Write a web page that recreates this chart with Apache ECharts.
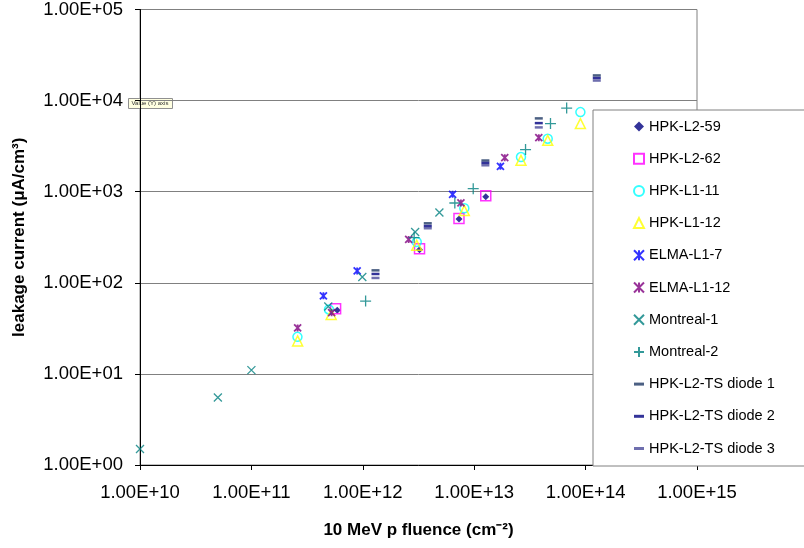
<!DOCTYPE html>
<html>
<head>
<meta charset="utf-8">
<script src="https://cdn.jsdelivr.net/npm/echarts@6/dist/echarts.min.js"></script>
<style>
  html, body { margin: 0; padding: 0; background: #fff; }
  #chart { width: 804px; height: 548px; }
</style>
</head>
<body>
<div id="chart"></div>
<script>
// tick labels (Excel style scientific)
const xTickLabels = ['1.00E+10', '1.00E+11', '1.00E+12', '1.00E+13', '1.00E+14', '1.00E+15'];
const yTickLabels = ['1.00E+00', '1.00E+01', '1.00E+02', '1.00E+03', '1.00E+04', '1.00E+05'];

// [fluence (cm^-2), leakage current (uA/cm^3)]
const hpkL2_59 = [[5.9e11, 50], [3.23e12, 230], [7.3e12, 500], [1.27e13, 880]];
const hpkL2_62 = [[5.7e11, 52], [3.23e12, 236], [7.3e12, 508], [1.27e13, 900]];
const hpkL1_11 = [[2.59e11, 25.5], [4.97e11, 51], [3.05e12, 281], [8.15e12, 658], [2.63e13, 2400], [4.57e13, 3820], [8.98e13, 7480]];
const hpkL1_12 = [[2.6e11, 23], [5.2e11, 45], [3.05e12, 258], [8.15e12, 620], [2.63e13, 2210], [4.57e13, 3660], [8.98e13, 5590]];
const elmaL1_7 = [[4.43e11, 72], [8.9e11, 135], [6.4e12, 935], [1.72e13, 1900]];
const elmaL1_12 = [[2.6e11, 32], [5.25e11, 47], [2.58e12, 299], [7.6e12, 752], [1.88e13, 2365], [3.8e13, 3920]];
const montreal1 = [[1e10, 1.5], [5e10, 5.5], [1e11, 11], [4.9e11, 55], [9.9e11, 116], [2.95e12, 361], [4.87e12, 590]];
const montreal2 = [[1.06e12, 63], [2.89e12, 314], [6.7e12, 752], [9.8e12, 1080], [2.89e13, 2900], [4.84e13, 5590], [6.76e13, 8280]];
const tsDiode1 = [[1.3e12, 137], [3.83e12, 450], [1.26e13, 2200], [3.8e13, 6380], [1.26e14, 18900]];
const tsDiode2 = [[1.3e12, 125], [3.83e12, 420], [1.26e13, 2070], [3.8e13, 5660], [1.26e14, 17700]];
const tsDiode3 = [[1.3e12, 113], [3.83e12, 397], [1.26e13, 1950], [3.8e13, 5080], [1.26e14, 16600]];

const FONT = "'Liberation Sans', Arial, sans-serif";

const SYM_DIAMOND = 'path://M5,0L10,5L5,10L0,5Z';
const SYM_X = 'path://M0,0L10,10M10,0L0,10';
const SYM_PLUS = 'path://M5,0L5,10M0,5L10,5';
const SYM_STAR = 'path://M0,0L10,10M10,0L0,10M5,0L5,10';
const SYM_DASH = 'path://M0,0L10,0L10,3L0,3Z';

function series(name, data, symbol, size, color, open, bw) {
  return {
    type: 'scatter',
    name: name,
    data: data,
    symbol: symbol,
    symbolSize: size,
    itemStyle: {
      color: open ? 'rgba(0,0,0,0)' : color,
      borderColor: color,
      borderWidth: bw
    },
    emphasis: { disabled: true }
  };
}

const chart = echarts.init(document.getElementById('chart'));

chart.setOption({
  animation: false,
  backgroundColor: '#fff',
  textStyle: { fontFamily: FONT },
  grid: {
    left: 140, right: 107, top: 9, bottom: 83,
    show: true, borderColor: '#808080', borderWidth: 1, backgroundColor: 'transparent'
  },
  xAxis: {
    type: 'log',
    logBase: 10,
    min: 1e10,
    max: 1e15,
    splitNumber: 5,
    name: '10 MeV p fluence (cm⁻²)',
    nameLocation: 'middle',
    nameGap: 57,
    nameTextStyle: { fontFamily: FONT, fontSize: 17, fontWeight: 'bold', color: '#000' },
    axisLine: { lineStyle: { color: '#000', width: 1 } },
    axisTick: { show: true, inside: false, length: 5, lineStyle: { color: '#000' } },
    minorTick: { show: false },
    splitLine: { show: false },
    axisLabel: {
      margin: 18,
      fontFamily: FONT, fontSize: 18.5, color: '#000',
      formatter: v => xTickLabels[Math.round(Math.log10(v)) - 10]
    }
  },
  yAxis: {
    type: 'log',
    logBase: 10,
    min: 1,
    max: 1e5,
    splitNumber: 5,
    name: 'leakage current (μA/cm³)',
    nameLocation: 'middle',
    nameGap: 112,
    nameTextStyle: { fontFamily: FONT, fontSize: 17, fontWeight: 'bold', color: '#000' },
    axisLine: { show: true, lineStyle: { color: '#000', width: 1 } },
    axisTick: { show: true, inside: false, length: 5, lineStyle: { color: '#000' } },
    minorTick: { show: false },
    splitLine: { show: true, lineStyle: { color: '#808080', width: 1 } },
    axisLabel: {
      margin: 17,
      fontFamily: FONT, fontSize: 18.5, color: '#000',
      formatter: v => yTickLabels[Math.round(Math.log10(v))]
    }
  },
  legend: {
    orient: 'vertical',
    left: 593,
    top: 110,
    padding: [9, 80, 10, 40],
    itemWidth: 10,
    itemHeight: 10,
    itemGap: 17.2,
    backgroundColor: '#fff',
    borderColor: '#808080',
    borderWidth: 1,
    selectedMode: false,
    textStyle: { fontFamily: FONT, fontSize: 14.5, color: '#000' }
  },
  graphic: [{
    type: 'group',
    left: 128,
    top: 98,
    children: [{
      type: 'rect',
      shape: { x: 0, y: 0, width: 44, height: 10 },
      style: { fill: '#FFFFE1', stroke: '#909090', lineWidth: 1 }
    }, {
      type: 'text',
      left: 3,
      top: 2,
      style: { text: 'Value (Y) axis', font: '6px ' + FONT, fill: '#333' }
    }]
  }],
  series: [
    series('HPK-L2-59', hpkL2_59, SYM_DIAMOND, 7, '#000080', false, 0),
    series('HPK-L2-62', hpkL2_62, 'rect', 10, '#FF00FF', true, 1.5),
    series('HPK-L1-11', hpkL1_11, 'circle', 9, '#00FFFF', true, 1.5),
    series('HPK-L1-12', hpkL1_12, 'triangle', 10, '#FFFF00', true, 1.5),
    series('ELMA-L1-7', elmaL1_7, SYM_STAR, 7, '#0000FF', false, 1.8),
    series('ELMA-L1-12', elmaL1_12, SYM_STAR, 7, '#800080', false, 1.8),
    series('Montreal-1', montreal1, SYM_X, 8, '#008080', false, 1.3),
    series('Montreal-2', montreal2, SYM_PLUS, 11, '#008080', false, 1.3),
    series('HPK-L2-TS diode 1', tsDiode1, SYM_DASH, [8, 2.5], '#1F3864', false, 0),
    series('HPK-L2-TS diode 2', tsDiode2, SYM_DASH, [8, 2.5], '#000080', false, 0),
    series('HPK-L2-TS diode 3', tsDiode3, SYM_DASH, [8, 2.5], '#4B4B9A', false, 0)
  ]
});
</script>
</body>
</html>
